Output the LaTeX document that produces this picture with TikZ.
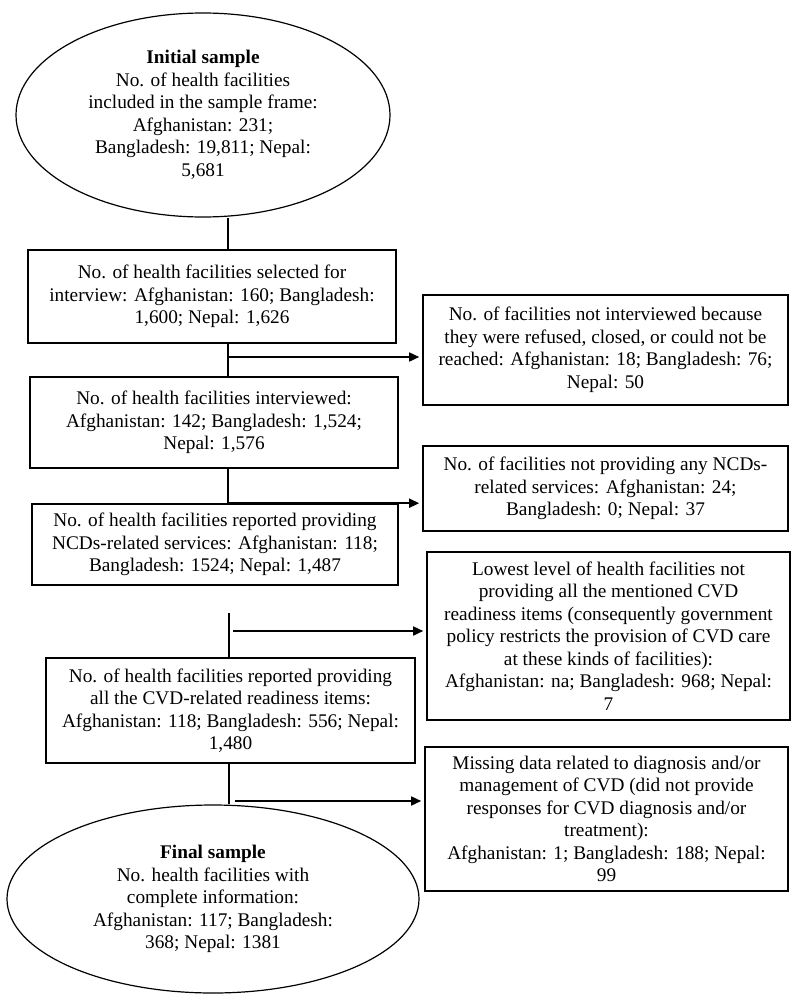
\documentclass[tikz,border=0pt]{standalone}
\usepackage{fontspec}
\setmainfont{Liberation Serif}
\usetikzlibrary{shapes.geometric,arrows.meta}

\begin{document}
\begin{tikzpicture}[x=1pt,y=-1pt]
\tikzstyle{box}=[draw,line width=1.6pt,align=center,inner sep=0pt,font=\fontsize{19.3pt}{22.5pt}\selectfont];
\tikzstyle{oval}=[ellipse,draw,line width=1.2pt,align=center,inner sep=0pt,font=\fontsize{19.3pt}{22.5pt}\selectfont];
\tikzstyle{link}=[line width=1.6pt];
\tikzstyle{drop}=[line width=1.6pt,-{Triangle[length=10pt,width=9pt]},shorten >=3pt];
\useasboundingbox (0,0) rectangle (800,1004);

\node [oval,minimum width=374pt,minimum height=204pt] (initial) at (203,115) {\textbf{Initial sample}\\No. of health facilities\\included in the sample frame:\\Afghanistan: 231;\\Bangladesh: 19,811; Nepal:\\5,681};
\node [box,minimum width=368pt,minimum height=93pt] (sel) at (212,296.5) {No. of health facilities selected for\\interview: Afghanistan: 160; Bangladesh:\\1,600; Nepal: 1,626};
\node [box,minimum width=368pt,minimum height=91pt] (intv) at (214,422.5) {No. of health facilities interviewed:\\Afghanistan: 142; Bangladesh: 1,524;\\Nepal: 1,576};
\node [box,minimum width=366pt,minimum height=81pt] (ncd) at (215,544.5) {No. of health facilities reported providing\\NCDs-related services: Afghanistan: 118;\\Bangladesh: 1524; Nepal: 1,487};
\node [box,minimum width=369pt,minimum height=105pt] (cvd) at (230.5,710.5) {No. of health facilities reported providing\\all the CVD-related readiness items:\\Afghanistan: 118; Bangladesh: 556; Nepal:\\1,480};
\node [oval,minimum width=412pt,minimum height=188pt] (final) at (213,899) {\textbf{Final sample}\\No. health facilities with\\complete information:\\Afghanistan: 117; Bangladesh:\\368; Nepal: 1381};

\node [box,minimum width=365pt,minimum height=110pt] (refused) at (605.5,350) {No. of facilities not interviewed because\\they were refused, closed, or could not be\\reached: Afghanistan: 18; Bangladesh: 76;\\Nepal: 50};
\node [box,minimum width=365pt,minimum height=85pt] (noncd) at (605.5,488.5) {No. of facilities not providing any NCDs-\\related services: Afghanistan: 24;\\Bangladesh: 0; Nepal: 37};
\node [box,minimum width=363pt,minimum height=168pt] (lowest) at (608.5,636) {Lowest level of health facilities not\\providing all the mentioned CVD\\readiness items (consequently government\\policy restricts the provision of CVD care\\at these kinds of facilities):\\Afghanistan: na; Bangladesh: 968; Nepal:\\7};
\node [box,minimum width=363pt,minimum height=144pt] (missing) at (606.5,819) {Missing data related to diagnosis and/or\\management of CVD (did not provide\\responses for CVD diagnosis and/or\\treatment):\\Afghanistan: 1; Bangladesh: 188; Nepal:\\99};

\coordinate (b1) at (228,357);
\coordinate (s1) at (229,613);
\coordinate (b3) at (233,631);
\coordinate (b4) at (235,801);

\draw [link] (initial.south -| b1) -- (sel.north -| b1);
\draw [link] (sel.south -| b1) -- (intv.north -| b1);
\draw [drop] (b1) -- (b1 -| refused.west);
\draw [link] (intv.south -| b1) -- (ncd.north -| b1);
\draw [drop] (ncd.north -| b1) -- (ncd.north -| noncd.west);

\draw [link] (s1) -- (cvd.north -| s1);
\draw [drop] (b3) -- (b3 -| lowest.west);
\draw [link] (cvd.south -| s1) -- (final.north -| s1);
\draw [drop] (b4) -- (b4 -| missing.west);
\end{tikzpicture}
\end{document}
